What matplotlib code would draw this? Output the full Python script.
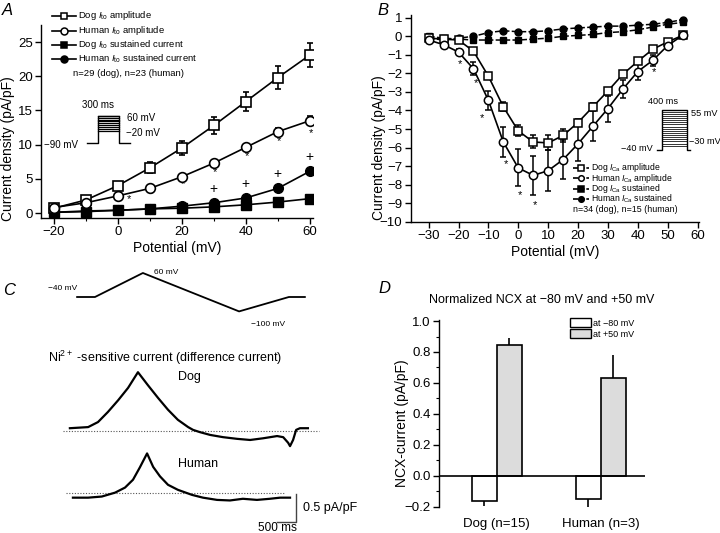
import numpy as np
import matplotlib
matplotlib.use("Agg")
import matplotlib.pyplot as plt
from matplotlib.patches import Patch
from matplotlib.lines import Line2D

plt.rcParams['font.family'] = ['Liberation Sans', 'DejaVu Sans']
plt.rcParams['mathtext.fontset'] = 'custom'
plt.rcParams['mathtext.rm'] = 'Liberation Sans'
plt.rcParams['mathtext.it'] = 'Liberation Sans:italic'
plt.rcParams['axes.linewidth'] = 1.0
plt.rcParams['xtick.major.width'] = 1.0
plt.rcParams['ytick.major.width'] = 1.0

# ---------------- data ----------------
# panel A: Ito
a_v = [-20, -10, 0, 10, 20, 30, 40, 50, 60]
dog_ito = [0.7, 1.9, 4.0, 6.6, 9.5, 12.8, 16.3, 19.8, 23.1]
dog_ito_err = [0.15, 0.3, 0.3, 0.8, 1.0, 1.3, 1.4, 1.7, 1.8]
hum_ito = [0.8, 1.5, 2.5, 3.6, 5.3, 7.3, 9.6, 11.9, 13.5]
hum_ito_err = [0.2, 0.3, 0.3, 0.4, 0.4, 0.5, 0.5, 0.6, 0.7]
dog_ito_sus = [0.1, 0.2, 0.4, 0.6, 0.7, 0.9, 1.2, 1.6, 2.1]
hum_ito_sus = [0.1, 0.3, 0.4, 0.6, 1.0, 1.5, 2.2, 3.6, 6.1]
a_star_x = [3.4, 10.5, 20.5, 30.3, 40.5, 50.4, 60.5]
a_star_y = [2.0, 2.8, 4.2, 6.0, 8.4, 10.5, 11.7]
a_plus_x = [30, 40, 50, 60]
a_plus_y = [3.5, 4.2, 5.7, 8.2]
a_steps = [-20, -10, 0, 10, 20, 30, 40, 50, 60]

# panel B: ICa
b_v = [-30, -25, -20, -15, -10, -5, 0, 5, 10, 15, 20, 25, 30, 35, 40, 45, 50, 55]
dog_ca = [-0.1, -0.15, -0.2, -0.8, -2.15, -3.8, -5.1, -5.7, -5.75, -5.35, -4.65, -3.8,
          -2.95, -2.05, -1.35, -0.7, -0.3, 0.05]
dog_ca_err = [0.05, 0.05, 0.05, 0.1, 0.15, 0.25, 0.3, 0.35, 0.4, 0.35, 0.2, 0.2,
              0.15, 0.15, 0.1, 0.1, 0.05, 0.05]
hum_ca = [-0.2, -0.45, -0.85, -1.75, -3.45, -5.7, -7.1, -7.5, -7.25, -6.65, -5.8, -4.85,
          -3.9, -2.85, -1.9, -1.3, -0.5, 0.05]
hum_ca_err = [0.05, 0.1, 0.15, 0.35, 0.5, 0.8, 1.0, 1.05, 1.1, 1.05, 0.95, 0.8,
              0.7, 0.5, 0.45, 0.3, 0.15, 0.05]
dog_ca_sus = [0.0, -0.1, -0.15, -0.2, -0.2, -0.2, -0.2, -0.15, -0.1, 0.0, 0.05, 0.1,
              0.2, 0.25, 0.35, 0.5, 0.65, 0.75]
hum_ca_sus = [-0.1, -0.2, -0.1, 0.0, 0.2, 0.3, 0.25, 0.25, 0.3, 0.4, 0.45, 0.5,
              0.55, 0.55, 0.6, 0.65, 0.75, 0.9]
b_star_x = [-29.4, -24.7, -19.6, -14.2, -12.2, -4.2, 0.6, 5.6, 45.5]
b_star_y = [-0.4, -0.55, -1.5, -2.5, -4.4, -6.9, -8.55, -9.1, -1.95]
b_steps = [-30, -25, -20, -15, -10, -5, 0, 5, 10, 15, 20, 25, 30, 35, 40, 45, 50, 55]

# panel C: protocol and Ni-sensitive currents
prot_t = [450, 920, 2180, 4710, 6020, 6440]
prot_v = [-40, -40, 60, -100, -40, -40]
dog_t = [260, 740, 1000, 1260, 1530, 1790, 2050, 2310, 2580, 2840, 3100, 3370, 3500,
         3680, 3950, 4290, 4660, 5000, 5340, 5710, 5870, 6000, 6050, 6130, 6210, 6310, 6520]
dog_i = [0.05, 0.07, 0.16, 0.34, 0.55, 0.77, 1.05, 0.82, 0.59, 0.38, 0.20, 0.07, 0.02,
         -0.02, -0.07, -0.11, -0.14, -0.16, -0.13, -0.09, -0.11, -0.21, -0.27, -0.16, 0.02, 0.05, 0.05]
hum_t = [340, 740, 1100, 1450, 1710, 1920, 2100, 2290, 2450, 2630, 2840, 3100, 3470,
         3760, 4130, 4470, 4810, 5180, 5520, 5790, 6050]
hum_i = [-0.09, -0.09, -0.07, 0.0, 0.09, 0.23, 0.45, 0.70, 0.46, 0.29, 0.14, 0.05, -0.04,
         -0.09, -0.13, -0.14, -0.11, -0.13, -0.11, -0.09, -0.09]

# panel D: NCX
groups = ["Dog (n=15)", "Human (n=3)"]
ncx_m80 = [-0.165, -0.153]
ncx_m80_err = [0.03, 0.10]
ncx_p50 = [0.845, 0.629]
ncx_p50_err = [0.043, 0.15]

W, H = 720, 533
fig = plt.figure(figsize=(7.2, 5.33), dpi=100)


def box(l, t, r, b):
    return [l / W, 1 - b / H, (r - l) / W, (b - t) / H]


def ftext(x, y, s, **kw):
    fig.text(x / W, 1 - y / H, s, **kw)


def legend_row(x0, x1, y, marker, filled, label, ms, fs, ls='-'):
    fy = 1 - y / H
    fig.add_artist(Line2D([x0 / W, x1 / W], [fy, fy], transform=fig.transFigure,
                          color='k', lw=1.2, ls=ls))
    fig.add_artist(Line2D([(x0 + x1) / 2 / W], [fy], transform=fig.transFigure,
                          marker=marker, ms=ms, mfc='k' if filled else 'white',
                          mec='k', mew=1.1, ls='none'))
    ftext(x1 + 2, y, label, fontsize=fs, va='center')


def style_axes(ax):
    for s in ['top', 'right']:
        ax.spines[s].set_visible(False)
    ax.tick_params(direction='out', length=4, labelsize=9.5, pad=2)
    ax.tick_params(which='minor', direction='out', length=2.5, width=0.8)


# ---------------- panel A ----------------
ax = fig.add_axes(box(41, 25, 313, 218))
style_axes(ax)
ms = 7
ax.errorbar(a_v, dog_ito, yerr=dog_ito_err, color='k', lw=1.2, marker='s', ms=ms,
            mfc='white', mec='k', mew=1.2, capsize=2.5, elinewidth=1.2, zorder=3)
ax.errorbar(a_v, hum_ito, yerr=hum_ito_err, color='k', lw=1.2, marker='o', ms=ms,
            mfc='white', mec='k', mew=1.2, capsize=2.5, elinewidth=1.2, zorder=3)
ax.plot(a_v, dog_ito_sus, color='k', lw=1.2, marker='s', ms=ms, zorder=3)
ax.plot(a_v, hum_ito_sus, color='k', lw=1.2, marker='o', ms=ms, zorder=3)
for x, y in zip(a_star_x, a_star_y):
    ax.text(x, y, '*', ha='center', va='center', fontsize=8)
for x, y in zip(a_plus_x, a_plus_y):
    ax.text(x, y, '+', ha='center', va='center', fontsize=10)
ax.set_xlim(-24, 61)
ax.set_ylim(-0.73, 27.5)
ax.set_xticks([-20, 0, 20, 40, 60])
ax.set_xticks([-10, 10, 30, 50], minor=True)
ax.set_yticks([0, 5, 10, 15, 20, 25])
ax.set_xticklabels(['\u221220', '0', '20', '40', '60'])
ax.set_xlabel('Potential (mV)', fontsize=10, labelpad=2)
ax.set_ylabel('Current density (pA/pF)', fontsize=10)
ax.yaxis.set_label_coords(-0.097, 0.36)

l_a = [r'Dog $\mathit{I}_\mathrm{to}$ amplitude', r'Human $\mathit{I}_\mathrm{to}$ amplitude',
       r'Dog $\mathit{I}_\mathrm{to}$ sustained current', r'Human $\mathit{I}_\mathrm{to}$ sustained current']
for y, mk, fl, lab in zip([16, 30.5, 44.5, 59], ['s', 'o', 's', 'o'],
                          [False, False, True, True], l_a):
    legend_row(52, 76, y, mk, fl, lab, 5, 6.8)
ftext(73, 73, 'n=29 (dog), n=23 (human)', fontsize=6.8, va='center')

# inset A: voltage protocol
ia = fig.add_axes(box(80, 110, 135, 150))
ia.axis('off')
ia.set_xlim(-246, 518)
ia.set_ylim(-127, 93)
for v in a_steps:
    ia.plot([0, 300], [v, v], color='k', lw=0.9)
ia.plot([-150, 0, 0, 300, 300, 450], [-90, -90, 60, 60, -90, -90], color='k', lw=1.0)
ftext(98, 105, '300 ms', fontsize=7, ha='center', va='center')
ftext(127, 118, '60 mV', fontsize=7, va='center')
ftext(126, 133, '\u221220 mV', fontsize=7, va='center')
ftext(44, 145, '\u221290 mV', fontsize=7, va='center')

# ---------------- panel B ----------------
bx = fig.add_axes(box(410.7, 15, 699, 221.7))
style_axes(bx)
msb = 5
bx.plot(b_v, dog_ca_sus, color='k', lw=1.1, ls=(0, (4, 1.5)), marker='s', ms=msb, zorder=3)
bx.plot(b_v, hum_ca_sus, color='k', lw=1.1, ls=(0, (4, 1.5)), marker='o', ms=msb, zorder=3)
bx.errorbar(b_v, dog_ca, yerr=dog_ca_err, color='k', lw=1.2, marker='s', ms=msb + 1,
            mfc='white', mec='k', mew=1.1, capsize=2.5, elinewidth=1.1, zorder=4)
bx.errorbar(b_v, hum_ca, yerr=hum_ca_err, color='k', lw=1.2, marker='o', ms=msb + 1,
            mfc='white', mec='k', mew=1.1, capsize=2.5, elinewidth=1.1, zorder=4)
for x, y in zip(b_star_x, b_star_y):
    bx.text(x, y, '*', ha='center', va='center', fontsize=8)
bx.set_xlim(-36, 60.5)
bx.set_ylim(-10, 1.15)
bx.set_xticks(list(range(-30, 61, 10)))
bx.set_xticklabels([str(v).replace('-', '\u2212') for v in range(-30, 61, 10)])
bx.set_yticks(list(range(-10, 2)))
bx.set_yticklabels([str(v).replace('-', '\u2212') for v in range(-10, 2)])
bx.set_xlabel('Potential (mV)', fontsize=10, labelpad=2)
bx.set_ylabel('Current density (pA/pF)', fontsize=10)
bx.yaxis.set_label_coords(-0.085, 0.36)

l_b = [r'Dog $\mathit{I}_\mathrm{Ca}$ amplitude', r'Human $\mathit{I}_\mathrm{Ca}$ amplitude',
       r'Dog $\mathit{I}_\mathrm{Ca}$ sustained', r'Human $\mathit{I}_\mathrm{Ca}$ sustained']
for y, mk, fl, lab in zip([168, 178.3, 188.7, 199], ['s', 'o', 's', 'o'],
                          [False, False, True, True], l_b):
    legend_row(573, 589, y, mk, fl, lab, 4, 6.2, ls=(0, (3, 1)))
ftext(573, 209.5, 'n=34 (dog), n=15 (human)', fontsize=6.4, va='center')

# inset B: voltage protocol
ib = fig.add_axes(box(640, 100, 700, 160))
ib.axis('off')
ib.set_xlim(-339, 598)
ib.set_ylim(-63.5, 77.3)
for v in b_steps:
    ib.plot([0, 400], [v, v], color='#333333', lw=0.7)
ib.plot([-78, 0, 0, 400, 400, 442], [-40, -40, 55, 55, -40, -40], color='k', lw=1.0)
ftext(663, 101, '400 ms', fontsize=6.6, ha='center', va='center')
ftext(691, 113, '55 mV', fontsize=6.6, va='center')
ftext(689, 142, '\u221230 mV', fontsize=6.6, va='center')
ftext(621, 148, '\u221240 mV', fontsize=6.6, va='center')

# ---------------- panel C ----------------
cp = fig.add_axes(box(40, 262, 340, 335))
cp.axis('off')
cp.set_xlim(-526, 7364)
cp.set_ylim(-198.3, 105.8)
cp.plot(prot_t, prot_v, color='k', lw=1.3)
ftext(77, 289, '\u221240 mV', fontsize=6, ha='right', va='center')
ftext(154, 273, '60 mV', fontsize=6, va='center')
ftext(251, 325, '\u2212100 mV', fontsize=6, va='center')

ct = fig.add_axes(box(40, 360, 340, 533))
ct.axis('off')
ct.set_xlim(-526, 7364)
ct.set_ylim(-1.821, 1.268)
hum_off = -1.1
ct.plot([80, 6810], [0, 0], color='#555555', lw=0.8, ls=(0, (1, 1.5)))
ct.plot([160, 5920], [hum_off, hum_off], color='#555555', lw=0.8, ls=(0, (1, 1.5)))
ct.plot(dog_t, dog_i, color='k', lw=1.6)
ct.plot(hum_t, np.array(hum_i) + hum_off, color='k', lw=1.6)
ct.plot([6210, 6210, 5710], [-1.125, -1.625, -1.625], color='#444444', lw=1.0)
ftext(303, 508, '0.5 pA/pF', fontsize=9, va='center')
ftext(277, 522, '500 ms', fontsize=8.5, ha='center', va='top')
ftext(48, 358, r'Ni$^{2+}$ -sensitive current (difference current)', fontsize=9, va='center')
ftext(178, 377, 'Dog', fontsize=9, va='center')
ftext(178, 464, 'Human', fontsize=9, va='center')

# ---------------- panel D ----------------
dx = fig.add_axes(box(439, 319.5, 645, 506.7))
for s in ['top', 'right', 'bottom']:
    dx.spines[s].set_visible(False)
dx.tick_params(axis='y', direction='out', length=4, labelsize=9.5, pad=2)
dx.tick_params(axis='y', which='minor', direction='out', length=2.5, width=0.8)
dx.tick_params(axis='x', length=0, labelsize=9.5, pad=8)
gx = np.arange(len(groups))
bw = 0.24
dx.bar(gx - bw / 2, ncx_m80, bw, color='white', edgecolor='k', lw=1.2, zorder=2)
dx.bar(gx + bw / 2, ncx_p50, bw, color='#dcdcdc', edgecolor='k', lw=1.2, zorder=2)
dx.errorbar(gx - bw / 2, ncx_m80, yerr=[ncx_m80_err, [0, 0]], fmt='none', ecolor='k',
            elinewidth=1.2, capsize=0, zorder=1)
dx.errorbar(gx + bw / 2, ncx_p50, yerr=[[0, 0], ncx_p50_err], fmt='none', ecolor='k',
            elinewidth=1.2, capsize=0, zorder=1)
dx.axhline(0, color='k', lw=1.2, zorder=3)
dx.set_xlim(-0.555, 1.426)
dx.set_ylim(-0.2, 1.01)
dx.set_yticks([-0.2, 0.0, 0.2, 0.4, 0.6, 0.8, 1.0])
dx.set_yticklabels(['\u22120.2', '0.0', '0.2', '0.4', '0.6', '0.8', '1.0'])
dx.set_yticks(np.arange(-0.1, 1.0, 0.2), minor=True)
dx.set_xticks(gx)
dx.set_xticklabels(groups)
dx.set_ylabel('NCX-current (pA/pF)', fontsize=10)
dx.yaxis.set_label_coords(-0.146, 0.444)
dx.set_title('Normalized NCX at \u221280 mV and +50 mV', fontsize=9, pad=12)
h_d = [Patch(facecolor='white', edgecolor='k', lw=1.0),
       Patch(facecolor='#dcdcdc', edgecolor='k', lw=1.0)]
dx.legend(h_d, ['at \u221280 mV', 'at +50 mV'], loc='upper left',
          bbox_to_anchor=(570 / W, 1 - 318 / H), bbox_transform=fig.transFigure,
          frameon=False, fontsize=6.5, handlelength=2.3, handleheight=1.2,
          handletextpad=0.2, labelspacing=0.15, borderpad=0, borderaxespad=0)

# panel letters
for lab, x, y in [('A', 2, 3), ('B', 377, 3), ('C', 3, 283), ('D', 378, 281)]:
    fig.text(x / W, 1 - y / H, lab, fontsize=12, style='italic', ha='left', va='top')

fig.savefig('out.png', dpi=100)
